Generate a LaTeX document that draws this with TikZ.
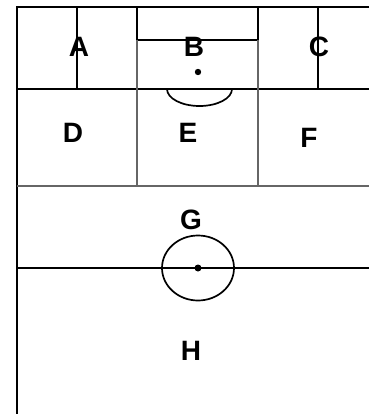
\documentclass[tikz,border=0pt]{standalone}
\usepackage{fontspec}
\setmainfont{Liberation Sans}
\begin{document}
\begin{tikzpicture}[x=1pt,y=-1pt,
  thickline/.style={line width=2.5pt,black},
  midline/.style={line width=1.7pt,black},
  thinline/.style={line width=1.2pt,black!60},
  lbl/.style={font=\fontsize{28}{28}\selectfont\bfseries,inner sep=0pt}]
\useasboundingbox[fill=white] (0,0) rectangle (369,414);
% field outline
\coordinate (TL) at (17,7);
\coordinate (TR) at (369,7);
\coordinate (BL) at (17,414);
\draw[thickline] (TR) -- (TL) -- (BL);
% penalty area
\coordinate (PA1) at (77,7);
\coordinate (PA2) at (77,89);
\coordinate (PA3) at (318,89);
\coordinate (PA4) at (318,7);
\draw[thickline] (PA1) -- (PA2) -- (PA3) -- (PA4);
% goal area
\coordinate (GA1) at (137,7);
\coordinate (GA2) at (137,40);
\coordinate (GA3) at (258,40);
\coordinate (GA4) at (258,7);
\draw[thickline] (GA1) -- (GA2) -- (GA3) -- (GA4);
% line at penalty area depth
\coordinate (L1a) at (17,89);
\coordinate (L1b) at (369,89);
\draw[midline] (L1a) -- (L1b);
% thin zone lines
\coordinate (V1a) at (137,40);
\coordinate (V1b) at (137,186);
\coordinate (V2a) at (258,40);
\coordinate (V2b) at (258,186);
\coordinate (H2a) at (17,186);
\coordinate (H2b) at (369,186);
\draw[thinline] (V1a) -- (V1b);
\draw[thinline] (V2a) -- (V2b);
\draw[thinline] (H2a) -- (H2b);
% penalty spot and arc
\fill (198,72) circle (3.2);
\coordinate (ArcL) at (167,89);
\draw[midline] (ArcL) arc[start angle=180,end angle=360,x radius=32.5,y radius=-17];
% halfway line
\coordinate (HWa) at (17,268);
\coordinate (HWb) at (369,268);
\draw[midline] (HWa) -- (HWb);
\draw[midline] (198,268) ellipse[x radius=36,y radius=32.5];
\fill (198,268) circle (3.5);
% labels
\node[lbl] (A) at (79,47) {A};
\node[lbl] (B) at (194,47) {B};
\node[lbl] (C) at (319,47) {C};
\node[lbl] (D) at (73,133) {D};
\node[lbl] (E) at (188,133) {E};
\node[lbl] (F) at (309,138) {F};
\node[lbl] (G) at (191,220) {G};
\node[lbl] (H) at (191,351) {H};
\end{tikzpicture}
\end{document}
